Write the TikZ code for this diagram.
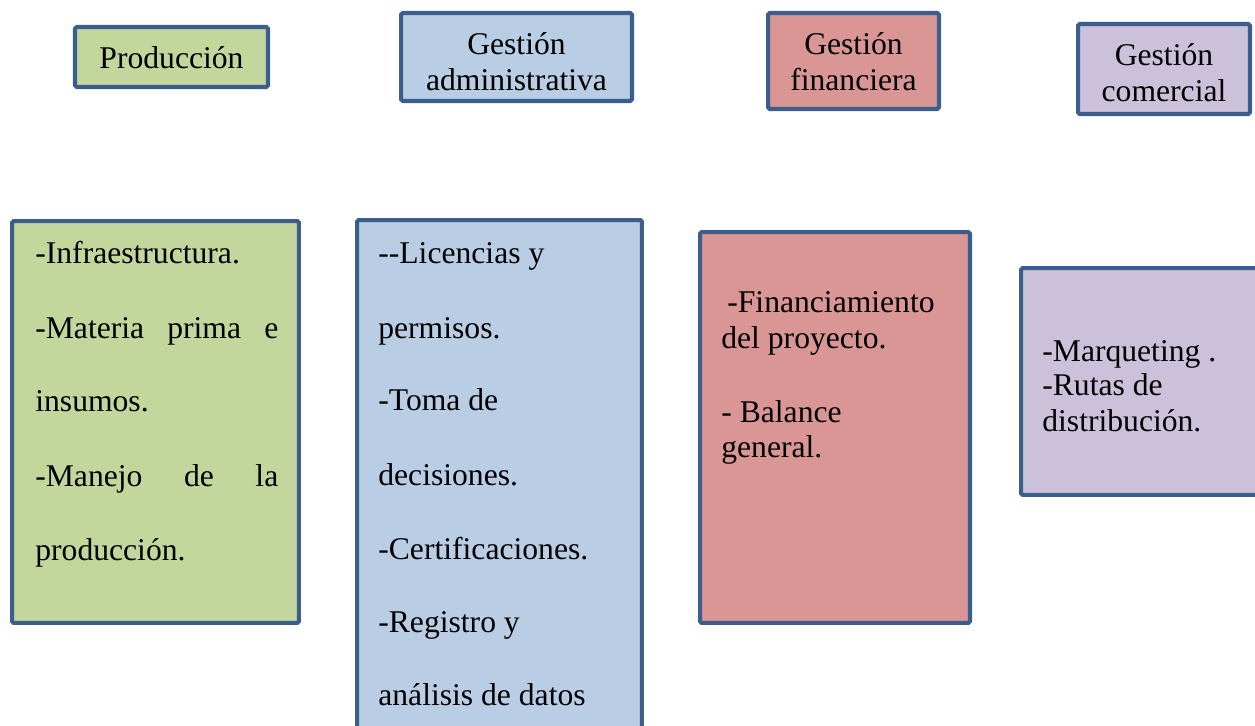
\documentclass[tikz,border=0pt]{standalone}
\usepackage{fontspec}
\setmainfont{Liberation Serif}
\definecolor{borde}{HTML}{3B5E8C}
\definecolor{verde}{HTML}{C3D69B}
\definecolor{azul}{HTML}{B9CDE5}
\definecolor{rojo}{HTML}{D99694}
\definecolor{lila}{HTML}{CCC1DA}
\tikzset{
  caja/.style={shape=rectangle,draw=borde,line width=2.3pt,rounded corners=1pt,inner sep=0pt},
  titulo/.style={anchor=base,inner sep=0pt,font=\fontsize{18}{21}\selectfont},
  linea/.style={anchor=base west,inner sep=0pt,font=\fontsize{18}{21}\selectfont}
}
\begin{document}
\begin{tikzpicture}[x=0.02cm,y=-0.02cm]
    \useasboundingbox (0,0) rectangle (1255,726);
    \clip (0,0) rectangle (1255,726);

    % cabeceras
    \node[caja,fill=verde,minimum width=3.86cm,minimum height=1.2cm] (prodcab) at (171.5,57) {};
    \node[caja,fill=azul,minimum width=4.62cm,minimum height=1.76cm] (admcab) at (516.5,57) {};
    \node[caja,fill=rojo,minimum width=3.42cm,minimum height=1.92cm] (fincab) at (853.5,61) {};
    \node[caja,fill=lila,minimum width=3.44cm,minimum height=1.8cm] (comcab) at (1164,69) {};

    \node[titulo] (prodT) at (171.5,69) {Producción};
    \node[titulo] (admT1) at (516.5,55) {Gestión};
    \node[titulo] (admT2) at (516.5,91) {administrativa};
    \node[titulo] (finT1) at (853.5,55) {Gestión};
    \node[titulo] (finT2) at (853.5,91) {financiera};
    \node[titulo] (comT1) at (1164,66) {Gestión};
    \node[titulo] (comT2) at (1164,102) {comercial};

    % cuerpos
    \node[caja,fill=verde,minimum width=5.74cm,minimum height=8.04cm] (prodbox) at (155.5,422) {};
    \node[caja,fill=azul,minimum width=5.7cm,minimum height=10.4cm] (admbox) at (499.5,480) {};
    \node[caja,fill=rojo,minimum width=5.4cm,minimum height=7.82cm] (finbox) at (835,427.5) {};
    \node[caja,fill=lila,minimum width=4.98cm,minimum height=4.54cm] (combox) at (1145.5,381.5) {};

    % produccion
    \node[linea] (p1) at (35,264) {-Infraestructura.};
    \node[linea] (p2) at (35,338) {\makebox[4.86cm][s]{-Materia prima e}};
    \node[linea] (p3) at (35,412) {insumos.};
    \node[linea] (p4) at (35,486) {\makebox[4.86cm][s]{-Manejo de la}};
    \node[linea] (p5) at (35,560) {producción.};

    % gestion administrativa
    \node[linea] (a1) at (378,264) {-{}-Licencias y};
    \node[linea] (a2) at (378,338) {permisos.};
    \node[linea] (a3) at (378,411) {-Toma de};
    \node[linea] (a4) at (378,485) {decisiones.};
    \node[linea] (a5) at (378,559) {-Certificaciones.};
    \node[linea] (a6) at (378,632) {-Registro y};
    \node[linea] (a7) at (378,705) {análisis de datos};

    % gestion financiera
    \node[linea] (f1) at (727,313) {-Financiamiento};
    \node[linea] (f2) at (721,349) {del proyecto.};
    \node[linea] (f3) at (721,422) {- Balance};
    \node[linea] (f4) at (721,458) {general.};

    % gestion comercial
    \node[linea] (c1) at (1042,361) {-Marqueting .};
    \node[linea] (c2) at (1042,396) {-Rutas de};
    \node[linea] (c3) at (1042,431) {distribución.};
\end{tikzpicture}
\end{document}
